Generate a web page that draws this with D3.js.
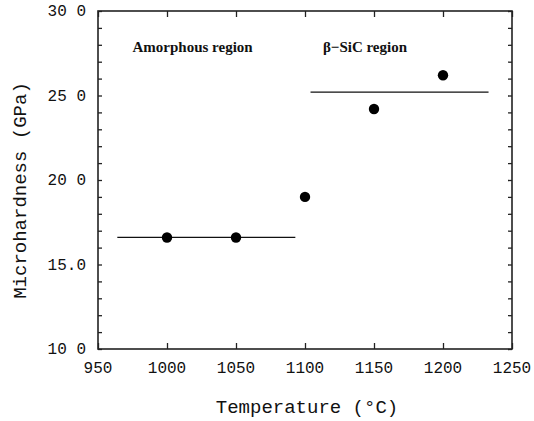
<!DOCTYPE html>
<html>
<head>
<meta charset="utf-8">
<script src="https://cdn.jsdelivr.net/npm/d3@7"></script>
<style>
  body { margin: 0; background: #fff; }
  svg { display: block; }
  .tick-label { font-family: "Liberation Mono", monospace; font-size: 16px; fill: #111; }
  .axis-title { font-family: "Liberation Mono", monospace; font-size: 19px; fill: #111; }
  .region { font-family: "Liberation Serif", serif; font-size: 15px; font-weight: bold; fill: #111; }
</style>
</head>
<body>
<svg id="chart" width="534" height="421"></svg>
<script>
// measured hardness points
const temps = [1000, 1050, 1100, 1150, 1200];
const hardness = [16.6, 16.6, 19.0, 24.2, 26.2];

// mean level lines for the two regions
const levelNames = ["Amorphous region", "β−SiC region"];
const levelStart = [964, 1104];
const levelEnd = [1093, 1233];
const levelValue = [16.6, 25.2];

const xTicks = [950, 1000, 1050, 1100, 1150, 1200, 1250];
const yTicks = [10, 15, 20, 25, 30];
const yTickLabels = ["10 0", "15.0", "20 0", "25 0", "30 0"];

const svg = d3.select("#chart");
const mLeft = 98, mRight = 512, mTop = 11, mBottom = 349;

const x = d3.scaleLinear().domain([950, 1250]).range([mLeft, mRight]);
const y = d3.scaleLinear().domain([10, 30]).range([mBottom, mTop]);

const frame = svg.append("g");

// y axes (left + right), ticks every 1 GPa pointing inward
const minorY = d3.range(10, 31, 1);
frame.append("g")
  .attr("transform", `translate(${mLeft},0)`)
  .call(d3.axisRight(y).tickValues(minorY).tickSize(4).tickFormat(""))
  .call(g => g.select(".domain").remove());
frame.append("g")
  .attr("transform", `translate(${mRight},0)`)
  .call(d3.axisLeft(y).tickValues(minorY).tickSize(4).tickFormat(""))
  .call(g => g.select(".domain").remove());

// x axes (bottom + top), inward ticks
frame.append("g")
  .attr("transform", `translate(0,${mBottom})`)
  .call(d3.axisTop(x).tickValues(xTicks).tickSize(6).tickFormat(""))
  .call(g => g.select(".domain").remove());
frame.append("g")
  .attr("transform", `translate(0,${mTop})`)
  .call(d3.axisBottom(x).tickValues(xTicks).tickSize(6).tickFormat(""))
  .call(g => g.select(".domain").remove());

frame.selectAll(".tick line").attr("stroke", "#222").attr("stroke-width", 1.3);

frame.append("rect")
  .attr("x", mLeft).attr("y", mTop)
  .attr("width", mRight - mLeft).attr("height", mBottom - mTop)
  .attr("fill", "none").attr("stroke", "#222").attr("stroke-width", 1.6);

// tick labels
svg.append("g").selectAll("text")
  .data(xTicks)
  .join("text")
  .attr("class", "tick-label")
  .attr("x", d => x(d))
  .attr("y", mBottom + 24)
  .attr("text-anchor", "middle")
  .text(d => d);

svg.append("g").selectAll("text")
  .data(yTicks)
  .join("text")
  .attr("class", "tick-label")
  .attr("x", mLeft - 12)
  .attr("y", d => y(d) + 5)
  .attr("text-anchor", "end")
  .text((d, i) => yTickLabels[i]);

// axis titles
svg.append("text")
  .attr("class", "axis-title")
  .attr("x", (mLeft + mRight) / 2 + 2)
  .attr("y", 413)
  .attr("text-anchor", "middle")
  .text("Temperature (°C)");

svg.append("text")
  .attr("class", "axis-title")
  .attr("transform", `translate(26,${(83 + 298) / 2}) rotate(-90)`)
  .attr("text-anchor", "middle")
  .text("Microhardness (GPa)");

// region level lines
svg.append("g").selectAll("line")
  .data(levelValue)
  .join("line")
  .attr("x1", (d, i) => x(levelStart[i]))
  .attr("x2", (d, i) => x(levelEnd[i]))
  .attr("y1", d => y(d))
  .attr("y2", d => y(d))
  .attr("stroke", "#111")
  .attr("stroke-width", 1.2);

// region labels
svg.append("g").selectAll("text")
  .data(levelNames)
  .join("text")
  .attr("class", "region")
  .attr("x", (d, i) => i === 0 ? x(975) : x(1113))
  .attr("y", 52)
  .text(d => d);

// points
svg.append("g").selectAll("circle")
  .data(temps)
  .join("circle")
  .attr("cx", d => x(d))
  .attr("cy", (d, i) => y(hardness[i]))
  .attr("r", 5.2)
  .attr("fill", "#000");
</script>
</body>
</html>
